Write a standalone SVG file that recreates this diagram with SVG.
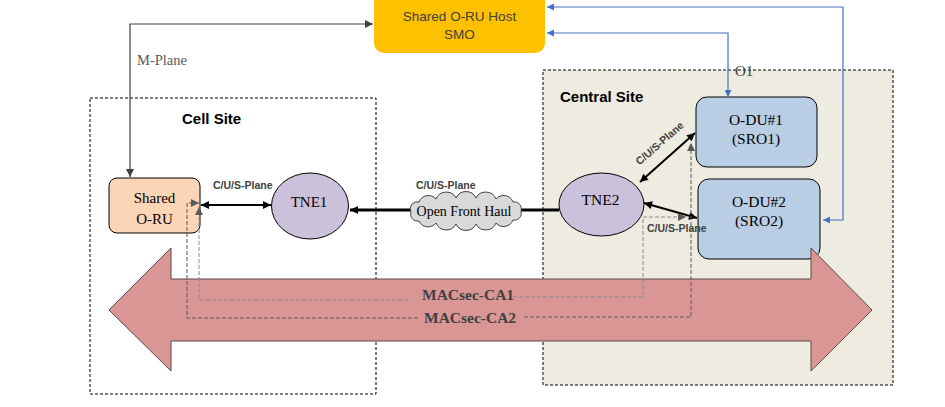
<svg xmlns="http://www.w3.org/2000/svg" width="945" height="407" viewBox="0 0 945 407">
<defs>
<style>
.site{stroke:#000;stroke-width:1;stroke-dasharray:3,2}
.sitelbl{font-family:"Liberation Sans",Arial,sans-serif;font-weight:bold;font-size:15px;fill:#000}
.serif{font-family:"Liberation Serif","Times New Roman",serif;fill:#000}
.cus{font-family:"Liberation Sans",Arial,sans-serif;font-weight:bold;font-size:10.5px;fill:#404040}
.blk{stroke:#000;stroke-width:2;fill:none}
.blue{stroke:#4472C4;stroke-width:1.2;fill:none}
.mp{stroke:#404040;stroke-width:1.2;fill:none}
.dsh{stroke:#595959;stroke-width:1;stroke-dasharray:4,2;fill:none}
.dshl{stroke:#8a8a8a;stroke-width:1;stroke-dasharray:4,2;fill:none}
.mac{font-family:"Liberation Serif","Times New Roman",serif;font-weight:bold;font-size:15.5px;fill:#404040}
</style>
<marker id="ab" viewBox="0 0 10 10" refX="10" refY="5" markerWidth="9" markerHeight="8" markerUnits="userSpaceOnUse" orient="auto-start-reverse"><path d="M0,0 L10,5 L0,10 Z" fill="#000"/></marker>
<marker id="am" viewBox="0 0 10 10" refX="10" refY="5" markerWidth="9" markerHeight="8" markerUnits="userSpaceOnUse" orient="auto-start-reverse"><path d="M0,0 L10,5 L0,10 Z" fill="#404040"/></marker>
<marker id="abl" viewBox="0 0 10 10" refX="10" refY="5" markerWidth="8" markerHeight="7" markerUnits="userSpaceOnUse" orient="auto-start-reverse"><path d="M0,0 L10,5 L0,10 Z" fill="#4472C4"/></marker>
<marker id="ag" viewBox="0 0 10 10" refX="10" refY="5" markerWidth="9" markerHeight="8" markerUnits="userSpaceOnUse" orient="auto-start-reverse"><path d="M0,0 L10,5 L0,10 Z" fill="#595959"/></marker>
</defs>

<g id="central-site">
<rect x="543" y="70" width="350" height="315" fill="#EEEBE1" class="site"/>
<text x="560" y="101.5" class="sitelbl">Central Site</text>
</g>
<g id="cell-site">
<rect x="90" y="98" width="286" height="296" fill="none" class="site"/>
<text x="182" y="123.5" class="sitelbl">Cell Site</text>
</g>

<g id="smo">
<rect x="374" y="-10" width="171" height="63" rx="10" fill="#FFC000"/>
<text x="459.5" y="21" text-anchor="middle" font-family="'Liberation Sans',Arial,sans-serif" font-size="13.5" fill="#404040">Shared O-RU Host</text>
<text x="459.5" y="38.5" text-anchor="middle" font-family="'Liberation Sans',Arial,sans-serif" font-size="13.5" fill="#404040">SMO</text>
</g>

<g id="shared-oru">
<rect x="109" y="178" width="91" height="55" rx="8" fill="#FBD5B5" stroke="#000" stroke-width="1"/>
<text x="154.5" y="203" text-anchor="middle" class="serif" font-size="15">Shared</text>
<text x="154.5" y="223.5" text-anchor="middle" class="serif" font-size="15">O-RU</text>
</g>

<g id="tne1">
<ellipse cx="310" cy="206" rx="38.5" ry="33" fill="#CCC1DA" stroke="#000" stroke-width="1"/>
<text x="309" y="207" text-anchor="middle" class="serif" font-size="15">TNE1</text>
</g>

<g id="tne2">
<ellipse cx="601.5" cy="204.5" rx="42.5" ry="31.5" fill="#CCC1DA" stroke="#000" stroke-width="1"/>
<text x="600.5" y="205" text-anchor="middle" class="serif" font-size="15.5">TNE2</text>
</g>

<g id="odu1">
<rect x="696" y="97" width="121" height="70" rx="11" fill="#B9CDE5" stroke="#000" stroke-width="1"/>
<text x="756" y="125" text-anchor="middle" class="serif" font-size="15.5">O-DU#1</text>
<text x="756" y="144" text-anchor="middle" class="serif" font-size="15.5">(SRO1)</text>
</g>

<g id="odu2">
<rect x="698" y="179" width="122" height="80" rx="11" fill="#B9CDE5" stroke="#000" stroke-width="1"/>
<text x="759" y="207" text-anchor="middle" class="serif" font-size="15.5">O-DU#2</text>
<text x="759" y="226" text-anchor="middle" class="serif" font-size="15.5">(SRO2)</text>
</g>

<g id="connectors">
<path class="mp" d="M130,177 V24 H373" marker-start="url(#am)" marker-end="url(#am)"/>
<text x="137" y="65" class="serif" font-size="14.5" fill="#595959" style="fill:#595959">M-Plane</text>
<path class="blue" d="M547,7 H843 V220 H823" marker-start="url(#abl)" marker-end="url(#abl)"/>
<path class="blue" d="M547,33 H728 V97" marker-start="url(#abl)" marker-end="url(#abl)"/>
<text x="735" y="76" class="serif" font-size="15" style="fill:#404040">O1</text>
<line class="blk" x1="201" y1="205" x2="271" y2="205" marker-start="url(#ab)" marker-end="url(#ab)"/>
<text x="213" y="189" class="cus">C/U/S-Plane</text>
<line x1="559" y1="210" x2="350" y2="210" stroke="#000" stroke-width="3" marker-end="url(#ab)"/>
<text x="416" y="189" class="cus">C/U/S-Plane</text>
<line class="blk" x1="640" y1="182" x2="695" y2="133" marker-start="url(#ab)" marker-end="url(#ab)"/>
<text x="0" y="0" class="cus" text-anchor="middle" transform="translate(662,146) rotate(-41)">C/U/S-Plane</text>
<line class="blk" x1="644" y1="203" x2="697" y2="218" marker-start="url(#ab)" marker-end="url(#ab)"/>
<text x="647" y="232" class="cus">C/U/S-Plane</text>
</g>

<g id="open-front-haul">
<path d="M411,212 A7,7 0 0 1 419,202 A10,10 0 0 1 436,199 A11,11 0 0 1 456,198 A11,11 0 0 1 476,198 A11,11 0 0 1 496,199 A10,10 0 0 1 513,202 A7,7 0 0 1 521,211 A7,7 0 0 1 513,220 A10,10 0 0 1 496,223 A11,11 0 0 1 476,224 A11,11 0 0 1 456,224 A11,11 0 0 1 436,223 A10,10 0 0 1 419,221 A7,7 0 0 1 411,212 Z" fill="#D9D9D9" stroke="#404040" stroke-width="1"/>
<text x="464" y="215.5" text-anchor="middle" class="serif" font-size="14">Open Front Haul</text>
</g>

<g id="macsec-arrow">
<polygon points="109,310 171,248 171,279 811,279 811,248 872,310 811,371 811,341 171,341 171,371" fill="#D99694" stroke="#5B4A4A" stroke-width="1"/>
</g>

<g id="macsec-paths">
<path class="dshl" d="M513,297 H643 V217 H686" marker-end="url(#ag)"/>
<path class="dshl" d="M408,300 H199 V207" marker-end="url(#ag)"/>
<path class="dsh" d="M524,317 H691 V143" marker-end="url(#ag)"/>
<path class="dsh" d="M418,318 H187 V203 H199" marker-end="url(#ag)"/>
<text x="422" y="299.5" class="mac">MACsec-CA1</text>
<text x="424" y="323" class="mac">MACsec-CA2</text>
</g>
</svg>
